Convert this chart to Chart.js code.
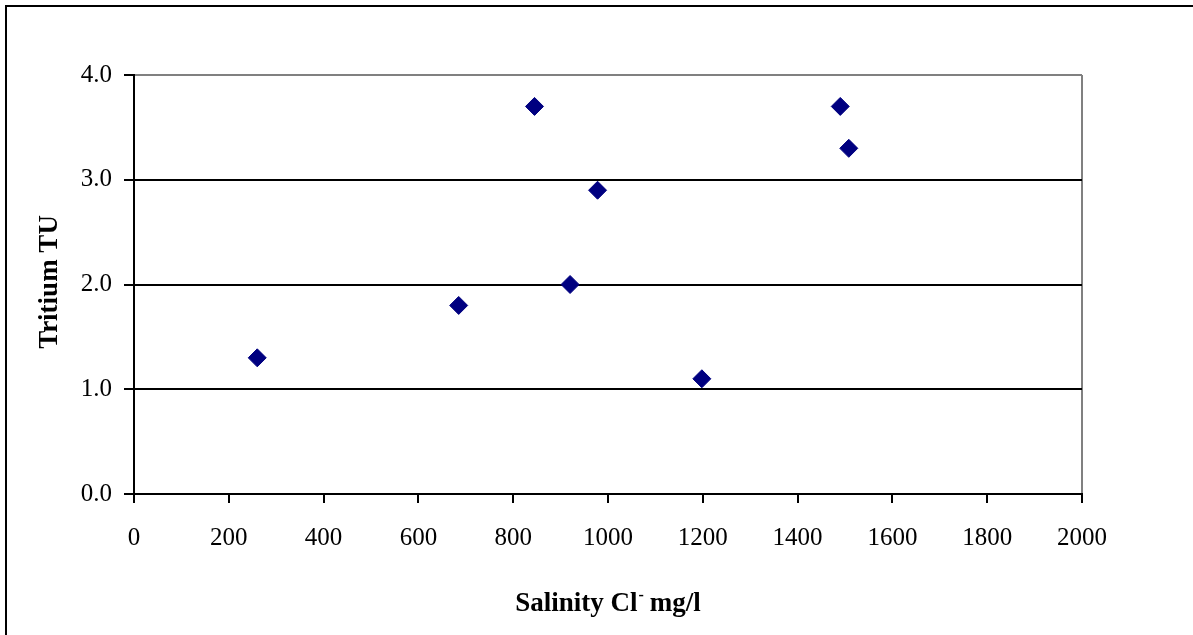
<!DOCTYPE html>
<html>
<head>
<meta charset="utf-8">
<script src="https://cdn.jsdelivr.net/npm/chart.js@4"></script>
<style>
html,body{margin:0;padding:0;background:#fff;overflow:hidden;}
#wrap{position:relative;width:1193px;height:635px;}
#frame{position:absolute;left:5px;top:5px;width:1300px;height:800px;border:2px solid #000;box-sizing:border-box;pointer-events:none;}
canvas{position:absolute;left:0;top:0;}
</style>
</head>
<body>
<div id="wrap"><canvas id="c" width="1193" height="635"></canvas><div id="frame"></div></div>
<script>
const salinity = [260, 685, 845, 920, 978, 1198, 1490, 1508];
const tritium = [1.3, 1.8, 3.7, 2.0, 2.9, 1.1, 3.7, 3.3];
const xTitle = ['Salinity Cl', '-', ' mg/l'];
const yTitle = 'Tritium TU';

const points = salinity.map((x, i) => ({x: x, y: tritium[i]}));

const titlesPlugin = {
  id: 'titles',
  afterDraw(chart) {
    const ctx = chart.ctx;
    const ca = chart.chartArea;
    ctx.save();
    ctx.fillStyle = '#000';
    ctx.font = 'bold 27px "Liberation Serif"';
    ctx.textBaseline = 'alphabetic';
    const main = ctx.measureText(xTitle[0]).width;
    ctx.font = 'bold 16px "Liberation Serif"';
    const sup = ctx.measureText(xTitle[1]).width;
    ctx.font = 'bold 27px "Liberation Serif"';
    const tail = ctx.measureText(xTitle[2]).width;
    const total = main + sup + tail;
    let x0 = (ca.left + ca.right) / 2 - total / 2;
    const by = 611;
    ctx.textAlign = 'left';
    ctx.fillText(xTitle[0], x0, by);
    ctx.font = 'bold 16px "Liberation Serif"';
    ctx.fillText(xTitle[1], x0 + main + 1, by - 11);
    ctx.font = 'bold 27px "Liberation Serif"';
    ctx.fillText(xTitle[2], x0 + main + sup, by);
    // y title
    ctx.translate(50, 282);
    ctx.rotate(-Math.PI / 2);
    ctx.textAlign = 'center';
    ctx.textBaseline = 'middle';
    ctx.fillText(yTitle, 0, 0);
    ctx.restore();
  }
};

new Chart(document.getElementById('c'), {
  type: 'scatter',
  data: {
    datasets: [{
      data: points,
      pointStyle: 'rectRot',
      pointRadius: 9,
      pointHoverRadius: 9,
      backgroundColor: '#000080',
      borderColor: '#000080',
      borderWidth: 1
    }]
  },
  options: {
    responsive: false,
    animation: false,
    devicePixelRatio: 1,
    layout: {padding: {left: 0, top: 75, right: 111, bottom: 0}},
    plugins: {legend: {display: false}, tooltip: {enabled: false}},
    scales: {
      x: {
        type: 'linear',
        min: 0, max: 2000,
        afterFit(s) { s.height = 141; },
        ticks: {stepSize: 200, color: '#000', padding: 20, font: {family: '"Liberation Serif"', size: 25}, maxRotation: 0, callback: v => String(v)},
        grid: {
          drawOnChartArea: true,
          color: c => c.tick && c.tick.value === 2000 ? '#808080' : 'rgba(0,0,0,0)',
          lineWidth: 2,
          tickColor: '#000',
          tickLength: 9,
          tickWidth: 2
        },
        border: {display: true, color: '#000', width: 2}
      },
      y: {
        min: 0, max: 4,
        afterFit(s) { s.width = 134; },
        ticks: {stepSize: 1, color: '#000', padding: 12, font: {family: '"Liberation Serif"', size: 25}, callback: v => v.toFixed(1)},
        grid: {
          color: c => c.tick && c.tick.value === 4 ? '#808080' : (c.tick && c.tick.value === 0 ? 'rgba(0,0,0,0)' : '#000'),
          lineWidth: 2,
          tickColor: '#000',
          tickLength: 10,
          tickWidth: 2
        },
        border: {display: true, color: '#000', width: 2}
      }
    }
  },
  plugins: [titlesPlugin]
});
</script>
</body>
</html>
